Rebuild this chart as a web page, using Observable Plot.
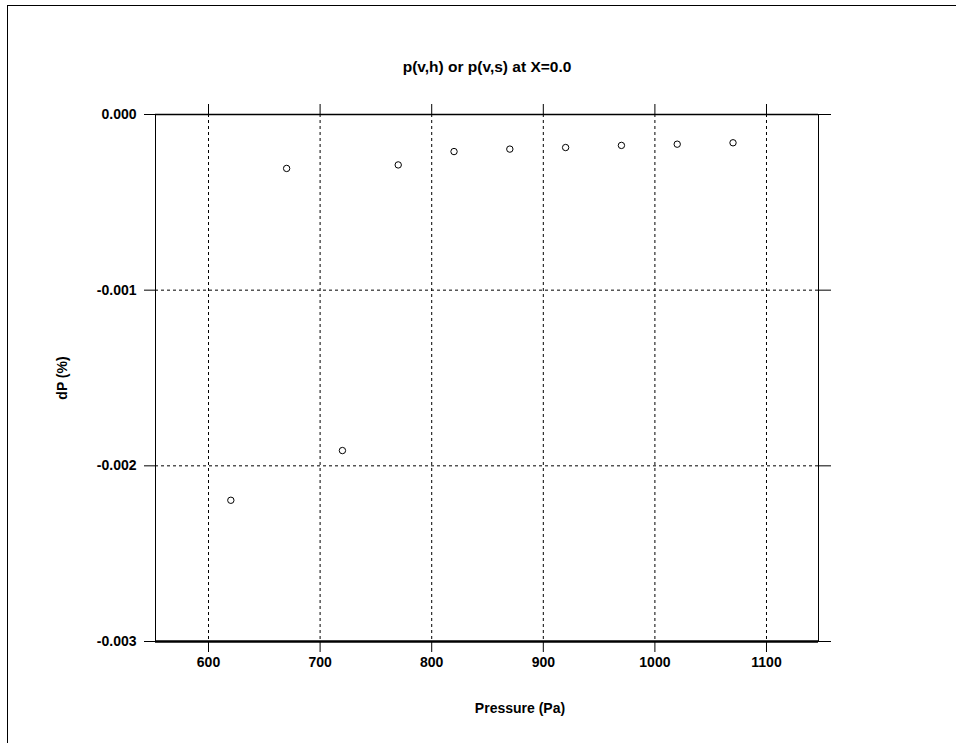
<!DOCTYPE html>
<html><head><meta charset="utf-8">
<script src="https://cdn.jsdelivr.net/npm/d3@7"></script>
<script src="https://cdn.jsdelivr.net/npm/@observablehq/plot@0.6"></script>
<style>
body{margin:0;background:#fff;}
#wrap{position:relative;width:956px;height:743px;overflow:hidden;background:#fff;}
#wrap svg{position:absolute;left:0;top:0;}
#border{position:absolute;left:7px;top:5px;width:1000px;height:1000px;border-left:1px solid #000;border-top:1px solid #000;pointer-events:none;}
</style></head><body><div id="wrap"><div id="border"></div></div>
<script>
const pressure = [620, 670, 720, 770, 820, 870, 920, 970, 1020, 1070];
const dP = [-0.002196, -0.000307, -0.001913, -0.000287, -0.000211, -0.000197, -0.000188, -0.000176, -0.000169, -0.000161];
const xTicks = [600, 700, 800, 900, 1000, 1100];
const yTicks = [0, -0.001, -0.002, -0.003];
const yGrid = [-0.001, -0.002];
const xDomain = [552.5, 1146.6];
const yDomain = [-0.003, 0];
const title = "p(v,h) or p(v,s) at X=0.0";
const xLabel = "Pressure (Pa)";
const yLabel = "dP (%)";

const data = pressure.map((p, i) => ({p, d: dP[i]}));
const font = "'Liberation Sans', Arial, sans-serif";

const chart = Plot.plot({
  width: 956, height: 743,
  marginLeft: 155, marginRight: 138, marginTop: 114, marginBottom: 102,
  style: {fontFamily: font, fontSize: "14px", fontWeight: "bold", background: "transparent", color: "#000", overflow: "visible"},
  x: {domain: xDomain, ticks: xTicks},
  y: {domain: yDomain, ticks: yTicks},
  marks: [
    Plot.gridX(xTicks, {stroke: "#000", strokeOpacity: 1, strokeDasharray: "3,3"}),
    Plot.gridY(yGrid, {stroke: "#000", strokeOpacity: 1, strokeDasharray: "3,3"}),
    Plot.frame({stroke: "#000"}),
    Plot.ruleY([yDomain[1]], {stroke: "#000", strokeWidth: 1.5}),
    Plot.ruleY([yDomain[0]], {stroke: "#000", strokeWidth: 2.5}),
    Plot.axisX(xTicks, {anchor: "bottom", tickSize: 11, tickPadding: 5, tickFormat: d => String(d), label: null, fill: "#000", fontSize: 14}),
    Plot.axisX(xTicks, {anchor: "top", tickSize: 11, tickFormat: () => "", label: null}),
    Plot.axisY(yTicks, {anchor: "left", tickSize: 11, tickPadding: 8, tickFormat: d => d.toFixed(3), label: null, fill: "#000", fontSize: 14}),
    Plot.axisY(yTicks, {anchor: "right", tickSize: 12, tickFormat: () => "", label: null}),
    Plot.dot(data, {x: "p", y: "d", r: 3.2, stroke: "#000", fill: "none", strokeWidth: 1}),
    Plot.text([title], {frameAnchor: "top", dy: -47, fontSize: 15.5, fontWeight: "bold", fill: "#000", lineAnchor: "middle"}),
    Plot.text([xLabel], {frameAnchor: "bottom", dx: 33, dy: 67, fontSize: 14, fontWeight: "bold", fill: "#000", lineAnchor: "middle"}),
    Plot.text([yLabel], {frameAnchor: "left", dx: -93, dy: 0, rotate: -90, textAnchor: "middle", fontSize: 14, fontWeight: "bold", fill: "#000", lineAnchor: "middle"})
  ]
});
document.getElementById("wrap").appendChild(chart);
</script>
</body></html>
